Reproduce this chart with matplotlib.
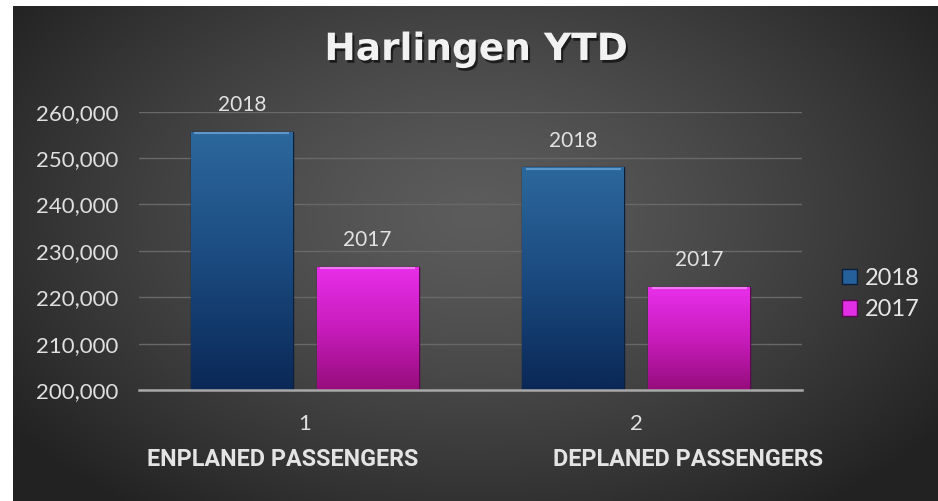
import numpy as np
import matplotlib
matplotlib.use('Agg')
import matplotlib.pyplot as plt
import matplotlib.patheffects as pe
from matplotlib.colors import LinearSegmentedColormap
from matplotlib.ticker import FuncFormatter

# ---- data ----
categories = ['1', '2']
group_names = ['ENPLANED PASSENGERS', 'DEPLANED PASSENGERS']
series_names = ['2018', '2017']
values_2018 = [255600, 248000]
values_2017 = [226600, 222200]

W, H = 938, 501
fig = plt.figure(figsize=(W / 100, H / 100), dpi=100)
fig.patch.set_facecolor('white')

# ---- background (radial gradient, white strip top/left) ----
bg = fig.add_axes([13 / W, 0, 1 - 13 / W, 1 - 6 / H], zorder=0)
yy, xx = np.mgrid[0:1:300j, 0:1:500j]
d = np.sqrt(((xx - 0.5) / 0.62) ** 2 + ((yy - 0.58) / 0.75) ** 2)
val = 0x5c - (0x5c - 0x22) * np.clip(d, 0, 1) ** 1.3
img = np.dstack([val, val, val]) / 255.0
bg.imshow(img, extent=[0, 1, 0, 1], aspect='auto', origin='lower')
bg.axis('off')

# ---- main axes ----
ax = fig.add_axes([139 / W, 111 / H, (802 - 139) / W, (390 - 111.7) / H], zorder=1)
ax.patch.set_alpha(0)
x = np.arange(len(categories))
bw = 0.307
off = 0.19

blue_cmap = LinearSegmentedColormap.from_list('b', ['#0a2856', '#1b4a80', '#2c689c'])
mag_cmap = LinearSegmentedColormap.from_list('m', ['#960d7c', '#c81cbc', '#e82fea'])

bars18 = ax.bar(x - off, values_2018, bw, color='#26609a', edgecolor='#0a1f3a',
                linewidth=1, label=series_names[0], zorder=3)
bars17 = ax.bar(x + off, values_2017, bw, color='#e22ee4', edgecolor='#5a0650',
                linewidth=1, label=series_names[1], zorder=3)

grad = np.linspace(0, 1, 256).reshape(-1, 1)
for bars, cmap, hi in [(bars18, blue_cmap, '#6aa4d8'), (bars17, mag_cmap, '#f58af5')]:
    for b in bars:
        x0, w = b.get_x(), b.get_width()
        h = b.get_height()
        im = ax.imshow(grad, extent=[x0, x0 + w, 200000, h], origin='lower',
                       cmap=cmap, aspect='auto', zorder=3.5)
        im.set_clip_path(b)
        ax.plot([x0 + 0.01, x0 + w - 0.01], [h - 250, h - 250], color=hi,
                lw=1.5, alpha=0.8, zorder=4, solid_capstyle='butt')

# data labels
for bars, name in [(bars18, '2018'), (bars17, '2017')]:
    for b in bars:
        ax.annotate(name, xy=(b.get_x() + b.get_width() / 2, b.get_height()),
                    xytext=(0, 12), textcoords='offset points', ha='center', va='bottom',
                    fontsize=15, color='#e2e2e2', family='Lato')

ax.set_xlim(-0.5, 1.5)
ax.set_ylim(200000, 260000)
ax.set_yticks(np.arange(200000, 260001, 10000))
ax.yaxis.set_major_formatter(FuncFormatter(lambda v, p: f'{int(v):,}'))
ax.grid(axis='y', color='#686868', linewidth=1, zorder=0)
ax.set_axisbelow(True)
for s in ['top', 'right', 'left']:
    ax.spines[s].set_visible(False)
ax.spines['bottom'].set_color('#a8a8a8')
ax.spines['bottom'].set_linewidth(1.8)
ax.spines['bottom'].set_zorder(5)
ax.set_xticks(x)
ax.set_xticklabels(categories)
ax.tick_params(axis='both', length=0, colors='#e0e0e0', labelsize=16)
ax.tick_params(axis='y', pad=15)
ax.tick_params(axis='x', pad=17)
for t in ax.get_xticklabels() + ax.get_yticklabels():
    t.set_family('Lato')

# group labels
for gx, name in zip([283, 688], group_names):
    fig.text(gx / W, 1 - 459 / H, name, ha='center', va='center', fontsize=16.8,
             fontweight='bold', color='#e4e4e4', family=['Roboto', 'DejaVu Sans'])

# title
fig.text(476 / W, 1 - 50 / H, 'Harlingen YTD', ha='center', va='center', fontsize=27,
         fontweight='bold', color='#f2f2f2', family='DejaVu Sans',
         path_effects=[pe.withSimplePatchShadow(offset=(1.5, -2), shadow_rgbFace='black', alpha=0.6)])

# legend
leg = fig.legend(handles=[bars18, bars17], labels=series_names, loc='center left',
                 bbox_to_anchor=(842 / W, 1 - 294 / H), frameon=False, borderpad=0,
                 borderaxespad=0, handlelength=0.65, handleheight=0.65, handletextpad=0.3,
                 labelspacing=0.45, prop={'family': 'Lato', 'size': 17})
for t in leg.get_texts():
    t.set_color('#e6e6e6')

fig.savefig('out.png', dpi=100)
